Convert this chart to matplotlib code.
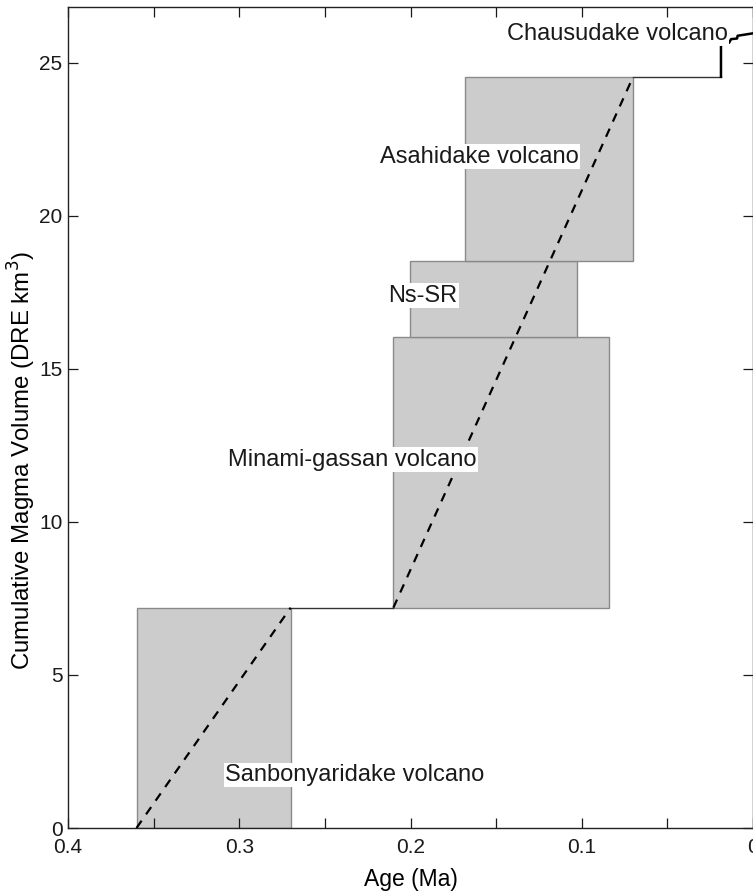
import matplotlib
matplotlib.use('Agg')
import matplotlib.pyplot as plt
from matplotlib.patches import Rectangle

plt.rcParams['font.family'] = ['Liberation Sans', 'DejaVu Sans']

# ---- Eruptive stages (age in Ma, cumulative volume in DRE km3) ----
stage_names  = ['Sanbonyaridake volcano', 'Minami-gassan volcano', 'Ns-SR', 'Asahidake volcano']
stage_old    = [0.360, 0.210, 0.200, 0.168]
stage_young  = [0.270, 0.084, 0.103, 0.070]
stage_vbot   = [0.00, 7.20, 16.04, 18.54]
stage_vtop   = [7.20, 16.04, 18.54, 24.55]

# Mean-rate trend lines (dashed)
trend_age = [[0.360, 0.270], [0.210, 0.070]]
trend_vol = [[0.00, 7.20], [7.20, 24.55]]

# Quiet interval between Sanbonyaridake and Minami-gassan
gap_age = [0.270, 0.210]
gap_vol = [7.20, 7.20]

# Chausudake volcano cumulative curve
chau_age = [0.070, 0.0187, 0.0187, 0.0140, 0.0128, 0.0093, 0.0090, 0.0]
chau_vol = [24.55, 24.55, 25.66, 25.66, 25.78, 25.80, 25.89, 25.97]

# Label anchors (left edge, vertical centre)
label_text = ['Chausudake volcano', 'Asahidake volcano', 'Ns-SR',
              'Minami-gassan volcano', 'Sanbonyaridake volcano']
label_age  = [0.1437, 0.2178, 0.2131, 0.3066, 0.3083]
label_vol  = [25.95, 21.94, 17.39, 12.03, 1.73]

xticks = [0.4, 0.35, 0.3, 0.25, 0.2, 0.15, 0.1, 0.05, 0.0]
xticklabels = ['0.4', '', '0.3', '', '0.2', '', '0.1', '', '0']
yticks = [0, 5, 10, 15, 20, 25]

fig = plt.figure(figsize=(7.53, 8.92), dpi=100)
ax = fig.add_axes([68 / 753, 1 - 828 / 892, 685 / 753, 821 / 892])

for x0, x1, y0, y1 in zip(stage_old, stage_young, stage_vbot, stage_vtop):
    ax.add_patch(Rectangle((x1, y0), x0 - x1, y1 - y0, facecolor='#cccccc',
                           edgecolor='#8a8a8a', lw=1.0, zorder=1))

for xs, ys in zip(trend_age, trend_vol):
    ax.plot(xs, ys, color='black', lw=1.6, ls=(0, (4, 3.5)), zorder=3)

ax.plot(gap_age, gap_vol, color='#333333', lw=1.0, zorder=2)
ax.plot(chau_age[:2], chau_vol[:2], color='#333333', lw=1.0, zorder=2)
ax.plot(chau_age[1:], chau_vol[1:], color='black', lw=1.8, zorder=2)

for t, xa, ya in zip(label_text, label_age, label_vol):
    ax.text(xa, ya, t, ha='left', va='center', fontsize=17, color='#1a1a1a',
            zorder=4, bbox=dict(facecolor='white', edgecolor='none', pad=1.0))

ax.set_xlim(0.4, 0.0)
ax.set_ylim(0, 26.83)
ax.set_xticks(xticks)
ax.set_xticklabels(xticklabels)
ax.set_yticks(yticks)
ax.tick_params(direction='in', length=7, width=0.9, labelsize=15,
               top=True, right=True, colors='#1a1a1a')
ax.tick_params(axis='x', pad=7)
ax.tick_params(axis='y', pad=4)
for s in ax.spines.values():
    s.set_linewidth(1.0)
    s.set_color('#222222')

ax.set_xlabel('Age (Ma)', fontsize=16.5, labelpad=8)
ax.set_ylabel('Cumulative Magma Volume (DRE km$^3$)', fontsize=17.3)
ax.yaxis.set_label_coords(-0.044, 0.448)

fig.savefig('out.png', dpi=100, facecolor='white')
plt.close()
